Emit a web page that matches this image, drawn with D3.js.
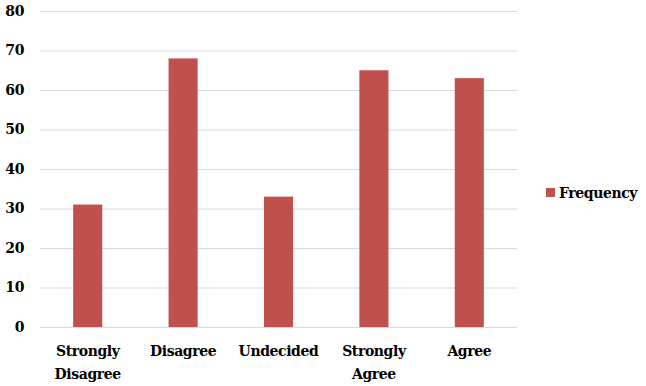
<!DOCTYPE html>
<html>
<head>
<meta charset="utf-8">
<script src="https://cdn.jsdelivr.net/npm/d3@7"></script>
<style>
  body { margin: 0; background: #fff; }
</style>
</head>
<body>
<svg id="chart" width="646" height="386"></svg>
<script>
    // Data
    const categories = ['Strongly Disagree', 'Disagree', 'Undecided', 'Strongly Agree', 'Agree'];
    const frequency = [31, 68, 33, 65, 63];
    const yTicks = [0, 10, 20, 30, 40, 50, 60, 70, 80];
    const seriesName = 'Frequency';

    const barColor = '#C0504D';
    const margin = { left: 40, right: 129, top: 11, bottom: 59 };
    const width = 646, height = 386;

    // Liberation Serif is not available here, DejaVu Serif is the serif we get
    const svg = d3.select('#chart')
        .style('font-family', "'DejaVu Serif', serif")
        .attr('font-weight', 'bold')
        .attr('font-size', 14)
        .style('letter-spacing', '-0.4px');

    const x = d3.scaleBand()
        .domain(categories)
        .range([margin.left, width - margin.right])
        .padding(0);

    const y = d3.scaleLinear()
        .domain([0, 80])
        .range([height - margin.bottom, margin.top]);

    // Gridlines
    svg.append('g')
        .selectAll('line')
        .data(yTicks)
        .join('line')
        .attr('x1', margin.left)
        .attr('x2', width - margin.right)
        .attr('y1', d => y(d) + 0.5)
        .attr('y2', d => y(d) + 0.5)
        .attr('stroke', '#d9d9d9')
        .attr('stroke-width', 1);

    // Y tick labels
    svg.append('g')
        .selectAll('text')
        .data(yTicks)
        .join('text')
        .attr('x', 24)
        .attr('y', d => y(d))
        .attr('dy', '0.35em')
        .attr('text-anchor', 'end')
        .text(d => d);

    // Bars
    const barW = x.bandwidth() * 0.305;
    svg.append('g')
        .selectAll('rect')
        .data(frequency)
        .join('rect')
        .attr('x', (d, i) => x(categories[i]) + x.bandwidth() / 2 - barW / 2)
        .attr('y', d => y(d))
        .attr('width', barW)
        .attr('height', d => y(0) - y(d))
        .attr('fill', barColor);

    // X labels (wrapped to two lines)
    const xl = svg.append('g')
        .selectAll('text')
        .data(categories)
        .join('text')
        .attr('text-anchor', 'middle')
        .attr('x', d => x(d) + x.bandwidth() / 2)
        .attr('y', 356);
    xl.each(function(d) {
        const words = d.split(' ');
        const t = d3.select(this);
        words.forEach((w, i) => {
            t.append('tspan')
                .attr('x', x(d) + x.bandwidth() / 2)
                .attr('dy', i === 0 ? 0 : 23)
                .text(w);
        });
    });

    // Legend
    const lg = svg.append('g').attr('transform', 'translate(546,188)');
    lg.append('rect').attr('width', 9).attr('height', 9).attr('fill', barColor);
    lg.append('text').attr('x', 13).attr('y', 10).text(seriesName);
</script>
</body>
</html>
